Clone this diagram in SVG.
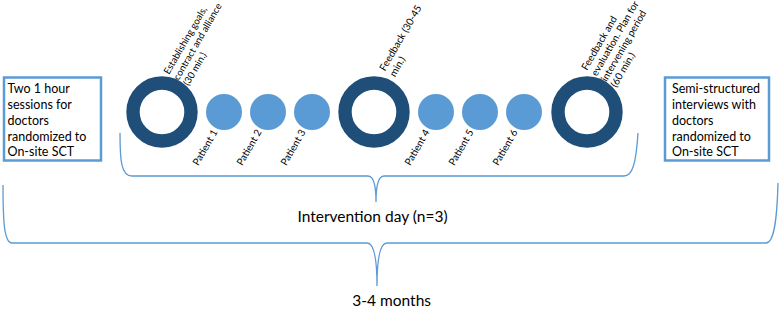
<svg xmlns="http://www.w3.org/2000/svg" width="779" height="334" viewBox="0 0 779 334">
<style>
text{font-family:Lato,"Liberation Sans",sans-serif;fill:#000}
.box{fill:#fff;stroke:#5b9bd5;stroke-width:2.5}
.bt{font-size:12.5px}
.ring{fill:none;stroke:#1f4e79;stroke-width:13.4}
.dot{fill:#5b9bd5}
.pl{font-size:10px}
.cl{font-size:10px}
.cl1{font-size:9.6px}
.brace{fill:none;stroke:#5b9bd5;stroke-width:1.3}
.big{font-size:15.5px}
</style>
<rect width="779" height="334" fill="#fff"/>
<g id="box-left">
<rect class="box" x="4" y="77.5" width="97" height="83"/>
<text class="bt" x="7.5" y="93.3">Two 1 hour</text>
<text class="bt" x="7.5" y="109">sessions for</text>
<text class="bt" x="7.5" y="125">doctors</text>
<text class="bt" x="7.5" y="140.7">randomized to</text>
<text class="bt" x="7.5" y="156.3">On-site SCT</text>
</g>
<g id="box-right">
<rect class="box" x="665" y="77.5" width="104" height="83"/>
<text class="bt" x="672" y="93.3">Semi-structured</text>
<text class="bt" x="672" y="109">interviews with</text>
<text class="bt" x="672" y="125">doctors</text>
<text class="bt" x="672" y="140.7">randomized to</text>
<text class="bt" x="672" y="156.3">On-site SCT</text>
</g>
<g id="session-1">
<circle class="ring" cx="162" cy="112" r="29"/>
<text class="cl1" transform="translate(169,75) rotate(-60)"><tspan x="0" y="0">Establishing goals,</tspan><tspan x="0" y="11.3">contract and alliance</tspan><tspan x="0" y="22.6">(30 min.)</tspan></text>
</g>
<g id="patient-1"><circle class="dot" cx="224" cy="112" r="18"/><text class="pl" text-anchor="end" transform="translate(218,132) rotate(-60)">Patient 1</text></g>
<g id="patient-2"><circle class="dot" cx="268" cy="112" r="18"/><text class="pl" text-anchor="end" transform="translate(262,132) rotate(-60)">Patient 2</text></g>
<g id="patient-3"><circle class="dot" cx="312" cy="112" r="18"/><text class="pl" text-anchor="end" transform="translate(306,132) rotate(-60)">Patient 3</text></g>
<g id="session-2">
<circle class="ring" cx="374" cy="112" r="29"/>
<text class="cl" transform="translate(385,71.7) rotate(-60)"><tspan x="0" y="0">Feedback (30-45</tspan><tspan x="0" y="11.5">min.)</tspan></text>
</g>
<g id="patient-4"><circle class="dot" cx="436" cy="112" r="18"/><text class="pl" text-anchor="end" transform="translate(430,132) rotate(-60)">Patient 4</text></g>
<g id="patient-5"><circle class="dot" cx="480" cy="112" r="18"/><text class="pl" text-anchor="end" transform="translate(474,132) rotate(-60)">Patient 5</text></g>
<g id="patient-6"><circle class="dot" cx="524" cy="112" r="18"/><text class="pl" text-anchor="end" transform="translate(518,132) rotate(-60)">Patient 6</text></g>
<g id="session-3">
<circle class="ring" cx="587" cy="112" r="29"/>
<text class="cl" transform="translate(587,71) rotate(-60)"><tspan x="0" y="0">Feedback and</tspan><tspan x="0" y="11.3">evaluation. Plan for</tspan><tspan x="0" y="22.6">intervening period</tspan><tspan x="0" y="33.9">(60 min.)</tspan></text>
</g>
<g id="connectors">
<path class="brace" d="M120,133 C120,160 121,176 132,176 L368,176 C374,176 376,186 376,202 C376,186 378,176 384,176 L624,176 C632,176 636,165 638,133"/>
<path class="brace" d="M3,185 C3,220 4,243 12,243 L367,243 C374,243 377,260 377,286 C377,260 380,243 387,243 L766,243 C774,243 777,220 778,183"/>
</g>
<g id="label-day"><text class="big" x="372.5" y="221.7" text-anchor="middle">Intervention day (n=3)</text></g>
<g id="label-months"><text class="big" x="352.3" y="306">3-4 months</text></g>
</svg>
